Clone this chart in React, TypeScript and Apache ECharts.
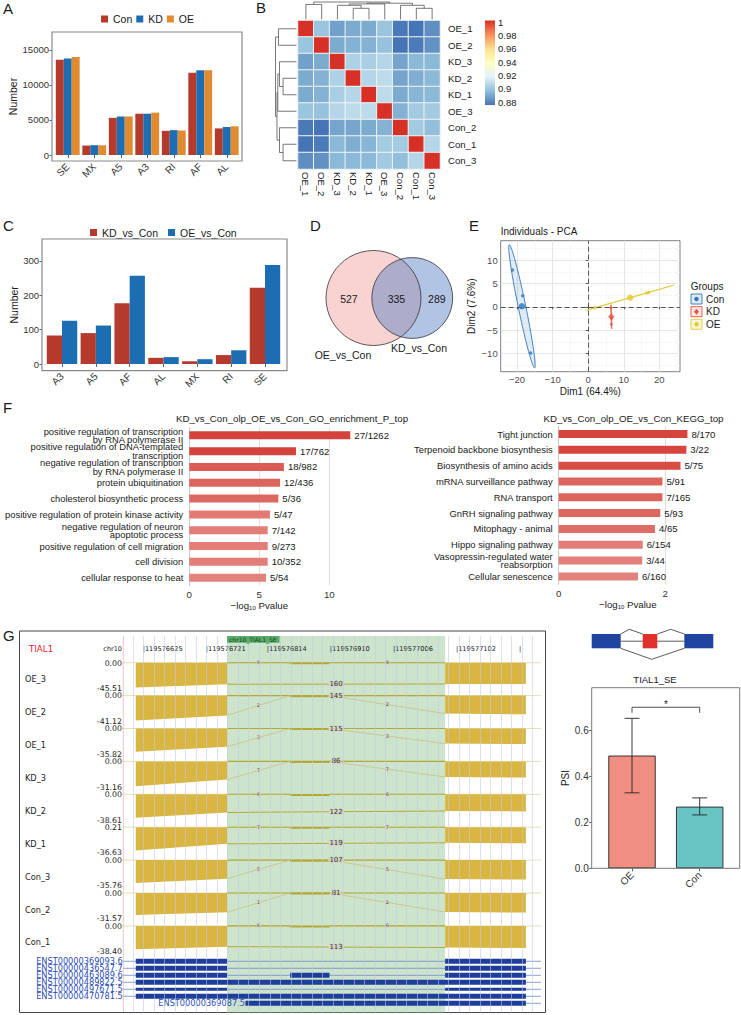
import React, { useEffect, useRef } from "react";
import * as echarts from "echarts";

const FONT = "'Liberation Sans', Arial, Helvetica, sans-serif";
const GFONT = "'DejaVu Sans', Verdana, sans-serif";
const INK = "#1a1a1a";

// ---------- Panel A ----------
const asTypes = ["SE", "MX", "A5", "A3", "RI", "AF", "AL"];
const asCon = [13600, 1350, 5300, 5900, 3450, 11750, 3800];
const asKD = [13800, 1400, 5500, 5900, 3550, 12100, 4000];
const asOE = [14000, 1380, 5500, 6050, 3500, 12100, 4100];
const aTicks = [0, 5000, 10000, 15000];

// ---------- Panel B ----------
const samples = ["OE_1", "OE_2", "KD_3", "KD_2", "KD_1", "OE_3", "Con_2", "Con_1", "Con_3"];
const corrMatrix = [
  [1, 0.899, 0.888, 0.891, 0.891, 0.899, 0.877, 0.876, 0.883],
  [0.899, 1, 0.891, 0.893, 0.893, 0.898, 0.876, 0.878, 0.884],
  [0.888, 0.891, 1, 0.904, 0.903, 0.906, 0.889, 0.895, 0.895],
  [0.891, 0.893, 0.904, 1, 0.906, 0.908, 0.889, 0.892, 0.895],
  [0.891, 0.893, 0.903, 0.906, 1, 0.908, 0.891, 0.894, 0.895],
  [0.899, 0.898, 0.906, 0.908, 0.908, 1, 0.893, 0.901, 0.901],
  [0.877, 0.876, 0.889, 0.889, 0.891, 0.893, 1, 0.901, 0.897],
  [0.876, 0.878, 0.895, 0.892, 0.894, 0.901, 0.901, 1, 0.906],
  [0.883, 0.884, 0.895, 0.895, 0.895, 0.901, 0.897, 0.906, 1],
];
const corrTicks = [1, 0.98, 0.96, 0.94, 0.92, 0.9, 0.88];
const corrMin = 0.876;
const corrMax = 1;
// hclust-style merges: negative = leaf (1-based), positive = earlier merge (1-based), height (relative)
const dendroMerges = [
  [-4, -5, 0.64],
  [-8, -9, 0.64],
  [-3, 1, 0.81],
  [-7, 2, 0.81],
  [-1, -2, 0.86],
  [3, -6, 0.89],
  [6, 4, 0.93],
  [5, 7, 1.0],
];

// ---------- Panel C ----------
const diffTypes = ["A3", "A5", "AF", "AL", "MX", "RI", "SE"];
const diffKD = [83, 90, 177, 18, 8, 26, 222];
const diffOE = [126, 112, 257, 20, 14, 40, 288];
const cTicks = [0, 100, 200, 300];

// ---------- Panel D ----------
const vennSets = ["OE_vs_Con", "KD_vs_Con"];
const vennOnlyOE = 527;
const vennBoth = 335;
const vennOnlyKD = 289;

// ---------- Panel E ----------
const pcaGroups = ["Con", "KD", "OE"];
const pcaPoints = [
  [[-21.3, 7.9], [-18.4, 2.4], [-16.2, -9.9]],
  [[6.4, -0.2], [6.6, -2.5], [6.5, -3.7]],
  [[1.9, -0.2], [16.4, 3.0], [17.0, 3.1]],
];
const pcaXTicks = [-20, -10, 0, 10, 20];
const pcaYTicks = [-10, -5, 0, 5, 10];
const pcaXMinor = [-15, -5, 5, 15, 25];
const pcaYMinor = [-12.5, -7.5, -2.5, 2.5, 7.5, 12.5];

// ---------- Panel F ----------
const goTerms = [
  "positive regulation of transcription\nby RNA polymerase II",
  "positive regulation of DNA-templated\ntranscription",
  "negative regulation of transcription\nby RNA polymerase II",
  "protein ubiquitination",
  "cholesterol biosynthetic process",
  "positive regulation of protein kinase activity",
  "negative regulation of neuron\napoptotic process",
  "positive regulation of cell migration",
  "cell division",
  "cellular response to heat",
];
const goLogP = [11.5, 7.62, 6.76, 6.48, 6.36, 5.76, 5.6, 5.6, 5.6, 5.48];
const goRatio = ["27/1262", "17/762", "18/982", "12/436", "5/36", "5/47", "7/142", "9/273", "10/352", "5/54"];
const goTicks = [0, 5, 10];
const keggTerms = [
  "Tight junction",
  "Terpenoid backbone biosynthesis",
  "Biosynthesis of amino acids",
  "mRNA surveillance pathway",
  "RNA transport",
  "GnRH signaling pathway",
  "Mitophagy - animal",
  "Hippo signaling pathway",
  "Vasopressin-regulated water\nreabsorption",
  "Cellular senescence",
];
const keggLogP = [2.42, 2.4, 2.29, 1.95, 1.95, 1.91, 1.81, 1.58, 1.57, 1.49];
const keggRatio = ["8/170", "3/22", "5/75", "5/91", "7/165", "5/93", "4/65", "6/154", "3/44", "6/160"];
const keggTicks = [0, 2];

// ---------- Panel G ----------
const gGene = "TIAL1";
const gChrom = "chr10";
const gEvent = "chr10_TIAL1_SE";
const gViewStart = 119576594;
const gViewEnd = 119577230;
const gTickPos = [119576625, 119576721, 119576814, 119576910, 119577006, 119577102, 119577198];
const gTickLabels = ["119576625", "119576721", "119576814", "119576910", "119577006", "119577102", ""];
const exonLeft = [119576613, 119576752];
const exonMid = [119576848, 119576908];
const exonRight = [119577084, 119577207];
const trackNames = ["OE_3", "OE_2", "OE_1", "KD_3", "KD_2", "KD_1", "Con_3", "Con_2", "Con_1"];
const trackTopLabel = ["0.00", "0.00", "0.00", "0.00", "0.00", "0.21", "0.00", "0.00", "0.00"];
const trackMax = [45.51, 41.12, 35.82, 31.16, 38.61, 36.63, 35.76, 31.57, 38.4];
// coverage readings: left exon start, left exon end, right exon start, right exon end
const trackCov = [
  [43.2, 37.8, 37.3, 37.3],
  [39.5, 31.3, 28.4, 29.6],
  [32.2, 25.1, 20.8, 21.5],
  [29.9, 21.8, 18.7, 19.3],
  [34.7, 27.0, 24.7, 25.5],
  [33.0, 23.4, 22.0, 22.7],
  [31.5, 25.7, 26.1, 26.8],
  [26.8, 23.4, 23.0, 23.7],
  [34.6, 30.7, 31.9, 32.6],
];
const skipReads = [160, 145, 115, 86, 122, 119, 107, 81, 113];
const incLeftReads = [9, 2, 3, 7, 6, 7, 5, 1, 6];
const incRightReads = [9, 2, 3, 7, 6, 7, 5, 2, 6];
const skipOnTop = [false, true, true, true, false, false, true, true, false];
const txNames = [
  "ENST00000369093.6",
  "ENST00000436547.7",
  "ENST00000463089.6",
  "ENST00000489822.5",
  "ENST00000497671.5",
  "ENST00000470781.5",
  "ENST00000369087.5",
];
const txSpan = [
  [119576560, 119577300],
  [119576560, 119577300],
  [119576560, 119577300],
  [119576560, 119577300],
  [119576560, 119577300],
  [119576560, 119577300],
  [119576780, 119577300],
];
const txExons = [
  [[119576613, 119576752], [119577084, 119577207]],
  [[119576613, 119576752], [119577084, 119577207]],
  [[119576613, 119576752], [119576848, 119576908], [119577084, 119577207]],
  [[119576613, 119577207]],
  [[119576613, 119576752], [119577084, 119577207]],
  [[119576613, 119577207]],
  [[119576780, 119577207]],
];

// ---------- PSI ----------
const psiGroups = ["OE", "Con"];
const psiMean = [0.49, 0.268];
const psiLow = [0.328, 0.232];
const psiHigh = [0.652, 0.306];
const psiTicks = [0, 0.2, 0.4, 0.6];
const psiSig = "*";

// ---------- helpers ----------
function hexRgb(h: string) {
  const n = parseInt(h.slice(1), 16);
  return [(n >> 16) & 255, (n >> 8) & 255, n & 255];
}
function mix(a: string, b: string, t: number) {
  const A = hexRgb(a), B = hexRgb(b);
  const c = A.map((v, i) => Math.round(v + (B[i] - v) * Math.max(0, Math.min(1, t))));
  return `rgb(${c[0]},${c[1]},${c[2]})`;
}
function mean(pts: number[][]) {
  const n = pts.length;
  return [pts.reduce((s, p) => s + p[0], 0) / n, pts.reduce((s, p) => s + p[1], 0) / n];
}
function ellipsePoints(pts: number[][], k: number, n = 90) {
  const [mx, my] = mean(pts);
  let sxx = 0, syy = 0, sxy = 0;
  pts.forEach((p) => {
    sxx += (p[0] - mx) ** 2;
    syy += (p[1] - my) ** 2;
    sxy += (p[0] - mx) * (p[1] - my);
  });
  const m = pts.length - 1;
  sxx /= m; syy /= m; sxy /= m;
  const tr = (sxx + syy) / 2;
  const df = Math.sqrt(((sxx - syy) / 2) ** 2 + sxy * sxy);
  const l1 = tr + df, l2 = Math.max(tr - df, 1e-6);
  const th = 0.5 * Math.atan2(2 * sxy, sxx - syy);
  const out: number[][] = [];
  for (let i = 0; i < n; i++) {
    const t = (2 * Math.PI * i) / n;
    const u = k * Math.sqrt(l1) * Math.cos(t);
    const v = k * Math.sqrt(l2) * Math.sin(t);
    out.push([mx + u * Math.cos(th) - v * Math.sin(th), my + u * Math.sin(th) + v * Math.cos(th)]);
  }
  return out;
}
function lensArea(r1: number, r2: number, d: number) {
  const a = Math.acos(Math.max(-1, Math.min(1, (d * d + r1 * r1 - r2 * r2) / (2 * d * r1))));
  const b = Math.acos(Math.max(-1, Math.min(1, (d * d + r2 * r2 - r1 * r1) / (2 * d * r2))));
  const s = Math.sqrt(Math.max(0, (-d + r1 + r2) * (d + r1 - r2) * (d - r1 + r2) * (d + r1 + r2)));
  return r1 * r1 * a + r2 * r2 * b - 0.5 * s;
}
function dendroLines(merges: number[][]) {
  const info: { pos: number; h: number }[] = [];
  const node = (id: number) => (id < 0 ? { pos: -id - 1, h: 0 } : info[id - 1]);
  const lines: number[][][] = [];
  merges.forEach(([a, b, h]) => {
    const A = node(a), B = node(b);
    lines.push([[A.pos, A.h], [A.pos, h], [B.pos, h], [B.pos, B.h]]);
    info.push({ pos: (A.pos + B.pos) / 2, h });
  });
  return lines;
}
const T = (x: number, y: number, text: string, o: any = {}) => ({
  type: "text",
  x,
  y,
  rotation: o.rotation || 0,
  silent: true,
  z: o.z || 10,
  style: {
    text,
    fontFamily: o.font || FONT,
    fontSize: o.size || 10,
    fill: o.fill || INK,
    align: o.align || "left",
    verticalAlign: o.va || "middle",
  },
});

function buildOption() {
  const graphic: any[] = [];
  const series: any[] = [];

  // panel letters
  [["A", 3, 8], ["B", 256, 7.5], ["C", 3, 225], ["D", 310, 225.5], ["E", 469, 225.5], ["F", 3, 407], ["G", 3, 635.5]].forEach(
    ([l, x, y]: any) => graphic.push(T(x, y, l, { size: 15 }))
  );

  // ---- A ----
  graphic.push({ type: "rect", shape: { x: 52, y: 32, width: 190, height: 129 }, style: { fill: "none", stroke: "#8a8a8a", lineWidth: 1.2 }, silent: true, z: 5 });
  const aColors = ["#B43A2C", "#1D6DB2", "#E08B30"];
  [["Con", asCon], ["KD", asKD], ["OE", asOE]].forEach(([name, data]: any, i) =>
    series.push({ type: "bar", name, xAxisIndex: 0, yAxisIndex: 0, data, barGap: "0%", barCategoryGap: "10%", itemStyle: { color: aColors[i] } })
  );

  // ---- B heatmap ----
  const heatData: any[] = [];
  corrMatrix.forEach((row, yi) => row.forEach((v, xi) => heatData.push([xi, yi, v])));
  const heatIndex = series.length;
  series.push({ type: "heatmap", xAxisIndex: 1, yAxisIndex: 1, data: heatData, itemStyle: { borderColor: "#f2f2f2", borderWidth: 1 }, emphasis: { disabled: true } });
  const cellW = 142 / samples.length, cellH = 148.5 / samples.length;
  dendroLines(dendroMerges).forEach((ln) => {
    graphic.push({ type: "polyline", silent: true, shape: { points: ln.map(([p, h]) => [298 + (p + 0.5) * cellW, 19.5 - h * 17.5]) }, style: { stroke: "#555", lineWidth: 0.8, fill: "none" } });
    graphic.push({ type: "polyline", silent: true, shape: { points: ln.map(([p, h]) => [296.5 - h * 21, 20.5 + (p + 0.5) * cellH]) }, style: { stroke: "#555", lineWidth: 0.8, fill: "none" } });
  });
  const corrPalette = ["#4575B4", "#91BFDB", "#E0F3F8", "#FFFFBF", "#FEE090", "#FC8D59", "#D73027"];
  graphic.push({
    type: "rect", silent: true, shape: { x: 485, y: 20.5, width: 10, height: 84.5 },
    style: { fill: new echarts.graphic.LinearGradient(0, 1, 0, 0, corrPalette.map((c, i) => ({ offset: i / (corrPalette.length - 1), color: c }))) },
  });
  corrTicks.forEach((v) => graphic.push(T(498, 22 + ((1 - v) / 0.12) * 80, String(v), { size: 9.5 })));

  // ---- C ----
  graphic.push({ type: "rect", shape: { x: 42, y: 239, width: 245, height: 131.7 }, style: { fill: "none", stroke: "#8a8a8a", lineWidth: 1.2 }, silent: true, z: 5 });
  series.push({ type: "bar", name: "KD_vs_Con", xAxisIndex: 2, yAxisIndex: 2, data: diffKD, barGap: "0%", barCategoryGap: "10%", itemStyle: { color: "#B43A2C" } });
  series.push({ type: "bar", name: "OE_vs_Con", xAxisIndex: 2, yAxisIndex: 2, data: diffOE, barGap: "0%", barCategoryGap: "10%", itemStyle: { color: "#1D6DB2" } });

  // ---- D Venn ----
  const vScale = 1.618;
  const rOE = vScale * Math.sqrt(vennOnlyOE + vennBoth);
  const rKD = vScale * Math.sqrt(vennOnlyKD + vennBoth);
  const target = (Math.PI * rOE * rOE * vennBoth) / (vennOnlyOE + vennBoth);
  let lo = Math.abs(rOE - rKD) + 1e-6, hi = rOE + rKD;
  for (let i = 0; i < 60; i++) {
    const mid = (lo + hi) / 2;
    if (lensArea(rOE, rKD, mid) > target) lo = mid; else hi = mid;
  }
  const dd = (lo + hi) / 2;
  const c1x = 373.5, cy = 298, c2x = c1x + dd;
  graphic.push({ type: "circle", silent: true, shape: { cx: c1x, cy, r: rOE }, style: { fill: "#F8D3D1" } });
  graphic.push({ type: "circle", silent: true, shape: { cx: c2x, cy, r: rKD }, style: { fill: "rgba(82,124,193,0.45)" } });
  graphic.push({ type: "circle", silent: true, shape: { cx: c1x, cy, r: rOE }, style: { fill: "none", stroke: "#333", lineWidth: 0.8 } });
  graphic.push({ type: "circle", silent: true, shape: { cx: c2x, cy, r: rKD }, style: { fill: "none", stroke: "#333", lineWidth: 0.8 } });
  graphic.push(T((c1x - rOE + c2x - rKD) / 2, cy + 1, String(vennOnlyOE), { size: 10.5, align: "center" }));
  graphic.push(T((c2x - rKD + c1x + rOE) / 2, cy + 1, String(vennBoth), { size: 10.5, align: "center" }));
  graphic.push(T((c1x + rOE + c2x + rKD) / 2, cy + 1, String(vennOnlyKD), { size: 10.5, align: "center" }));
  graphic.push(T(343, 355, vennSets[0], { size: 10.5, align: "center" }));
  graphic.push(T(419, 348, vennSets[1], { size: 10.5, align: "center" }));

  // ---- E PCA ----
  const pcaColors = ["#2E78BE", "#E4553F", "#E3CB35"];
  const pcaFills = ["rgba(46,120,190,0.15)", "rgba(228,85,63,0.15)", "rgba(227,203,53,0.2)"];
  const pcaSymbols = ["circle", "diamond", "circle"];
  graphic.push(T(500.7, 231.7, "Individuals - PCA", { size: 10 }));
  series.push({
    type: "custom", name: "pca-ellipse", xAxisIndex: 3, yAxisIndex: 3, clip: true, silent: true, z: 2,
    data: pcaPoints.map((p) => mean(p)),
    renderItem: (params: any, api: any) => {
      const gi = params.dataIndex;
      const pts = ellipsePoints(pcaPoints[gi], 1.45).map((p) => api.coord(p));
      return { type: "polygon", shape: { points: pts }, style: { fill: pcaFills[gi], stroke: pcaColors[gi], lineWidth: 0.9 } };
    },
  });
  pcaGroups.forEach((g, i) => {
    series.push({
      type: "scatter", name: "pca-" + g, xAxisIndex: 3, yAxisIndex: 3, data: pcaPoints[i], symbol: pcaSymbols[i], symbolSize: 3.5,
      itemStyle: { color: pcaColors[i] }, z: 4,
      markLine: i === 0 ? {
        silent: true, symbol: "none", label: { show: false },
        lineStyle: { type: [5, 3], color: "#555", width: 1 },
        data: [{ xAxis: 0 }, { yAxis: 0 }],
      } : undefined,
    });
    series.push({ type: "scatter", name: "pca-mean-" + g, xAxisIndex: 3, yAxisIndex: 3, data: [mean(pcaPoints[i])], symbol: pcaSymbols[i], symbolSize: 6.5, itemStyle: { color: pcaColors[i] }, z: 5 });
  });
  graphic.push(T(690.7, 286, "Groups", { size: 10 }));
  pcaGroups.forEach((g, i) => {
    const y = 294 + i * 12.65;
    graphic.push({ type: "rect", silent: true, shape: { x: 691, y, width: 11, height: 10 }, style: { fill: pcaFills[i], stroke: pcaColors[i], lineWidth: 0.9 } });
    if (pcaSymbols[i] === "diamond") {
      graphic.push({ type: "polygon", silent: true, shape: { points: [[696.5, y + 2], [699, y + 5], [696.5, y + 8], [694, y + 5]] }, style: { fill: pcaColors[i] } });
    } else {
      graphic.push({ type: "circle", silent: true, shape: { cx: 696.5, cy: y + 5, r: 2.2 }, style: { fill: pcaColors[i] } });
    }
    graphic.push(T(706, y + 5, g, { size: 10 }));
  });

  // ---- F ----
  graphic.push(T(292, 418, "KD_vs_Con_olp_OE_vs_Con_GO_enrichment_P_top", { size: 9.7, align: "center" }));
  graphic.push(T(633.5, 418, "KD_vs_Con_olp_OE_vs_Con_KEGG_top", { size: 9.7, align: "center" }));
  series.push({
    type: "bar", name: "GO", xAxisIndex: 4, yAxisIndex: 4, data: goLogP, barWidth: 8, clip: false,
    itemStyle: { color: (p: any) => mix("#E4837E", "#D5443C", (p.value - 5.4) / (7.6 - 5.4)) },
    label: { show: true, position: "right", distance: 4, formatter: (p: any) => goRatio[p.dataIndex], fontSize: 9.6, color: INK, fontFamily: FONT },
  });
  series.push({
    type: "bar", name: "KEGG", xAxisIndex: 5, yAxisIndex: 5, data: keggLogP, barWidth: 8, clip: false,
    itemStyle: { color: (p: any) => mix("#E4837E", "#D5443C", (p.value - 1.49) / (2.42 - 1.49)) },
    label: { show: true, position: "right", distance: 4, formatter: (p: any) => keggRatio[p.dataIndex], fontSize: 9.6, color: INK, fontFamily: FONT },
  });

  // ---- G ----
  graphic.push({ type: "rect", silent: true, z: 1, shape: { x: 19.5, y: 631, width: 526, height: 381.5 }, style: { fill: "none", stroke: "#444", lineWidth: 1 } });
  graphic.push({ type: "line", silent: true, z: 1, shape: { x1: 123.3, y1: 636, x2: 123.3, y2: 1012 }, style: { stroke: "#F2C6C6", lineWidth: 1 } });
  graphic.push(T(29, 649, gGene, { size: 8.7, font: GFONT, fill: "#E8202A" }));
  graphic.push(T(122, 649, gChrom, { size: 6.5, font: GFONT, align: "right", fill: "#222" }));

  const G_TRACK0 = 26.7, G_STEP = 32.9, G_DEPTH = 26, G_TX0 = 325.3, G_TXSTEP = 7;
  const GOLD = "#D9B642";
  const OLIVE = "#B3A835";
  const OLIVE_L = "#C8C27C";
  const lblBig = (x: number, y: number, s: string) => ({
    type: "text", x, y, z2: 5,
    style: { text: s, fontFamily: GFONT, fontSize: 7, fill: "#333", align: "center", verticalAlign: "middle", backgroundColor: "rgba(214,214,200,0.8)", padding: [0, 1] },
  });
  const lblSmall = (x: number, y: number, s: string) => ({
    type: "text", x, y, z2: 5,
    style: { text: s, fontFamily: GFONT, fontSize: 4.8, fill: "#444", align: "center", verticalAlign: "middle", backgroundColor: "rgba(214,214,200,0.8)", padding: [0, 0.5] },
  });

  // highlight
  series.push({
    type: "custom", name: "g-highlight", xAxisIndex: 6, yAxisIndex: 6, silent: true, z: 1,
    data: [[exonLeft[1], exonRight[0]]],
    renderItem: (params: any, api: any) => {
      const x0 = api.coord([api.value(0), 0])[0];
      const x1 = api.coord([api.value(1), 0])[0];
      const cs = params.coordSys;
      return { type: "rect", shape: { x: x0, y: cs.y, width: x1 - x0, height: cs.height }, style: { fill: "rgba(140,195,140,0.45)" } };
    },
  });
  series.push({
    type: "custom", name: "g-highlight-label", xAxisIndex: 6, yAxisIndex: 6, silent: true, z: 6,
    data: [[exonLeft[1], 0]],
    renderItem: (params: any, api: any) => {
      const x0 = api.coord([api.value(0), 0])[0];
      const cs = params.coordSys;
      return {
        type: "group",
        children: [
          { type: "rect", shape: { x: x0, y: cs.y, width: 52.5, height: 6.8 }, style: { fill: "#5BAA66" } },
          { type: "text", x: x0 + 2, y: cs.y + 3.5, style: { text: gEvent, fontFamily: GFONT, fontSize: 6, fill: "#143", align: "left", verticalAlign: "middle" } },
        ],
      };
    },
  });
  // tracks
  series.push({
    type: "custom", name: "g-tracks", xAxisIndex: 6, yAxisIndex: 6, silent: true, z: 3,
    data: trackNames.map(() => [gViewStart, 0]),
    renderItem: (params: any, api: any) => {
      const i = params.dataIndex;
      const cs = params.coordSys;
      const X = (bp: number) => api.coord([bp, 0])[0];
      const Y = (u: number) => api.coord([gViewStart, u])[1];
      const topU = G_TRACK0 + i * G_STEP;
      const yt = Y(topU);
      const dep = (c: number) => Y(topU + (G_DEPTH * c) / trackMax[i]);
      const cov = trackCov[i];
      const L0 = X(exonLeft[0]), L1 = X(exonLeft[1]), M0 = X(exonMid[0]), M1 = X(exonMid[1]), R0 = X(exonRight[0]), R1 = X(exonRight[1]);
      const ch: any[] = [];
      ch.push({ type: "text", x: cs.x - 98.3, y: yt + 16.5, style: { text: trackNames[i], fontFamily: GFONT, fontSize: 8.2, fill: "#222", align: "left", verticalAlign: "middle" } });
      ch.push({ type: "text", x: cs.x - 1.3, y: yt + 0.3, style: { text: trackTopLabel[i], fontFamily: GFONT, fontSize: 7.8, fill: "#222", align: "right", verticalAlign: "middle" } });
      ch.push({ type: "text", x: cs.x - 1.3, y: Y(topU + G_DEPTH) - 0.3, style: { text: "-" + trackMax[i].toFixed(2), fontFamily: GFONT, fontSize: 7.8, fill: "#222", align: "right", verticalAlign: "middle" } });
      ch.push({ type: "line", shape: { x1: cs.x - 1, y1: yt, x2: cs.x + cs.width, y2: yt }, style: { stroke: "rgba(210,200,120,0.7)", lineWidth: 0.8 } });
      ch.push({ type: "polygon", shape: { points: [[L0, yt], [L1, yt], [L1, dep(cov[1])], [L0, dep(cov[0])]] }, style: { fill: GOLD } });
      ch.push({ type: "polygon", shape: { points: [[R0, yt], [R1, yt], [R1, dep(cov[3])], [R0, dep(cov[2])]] }, style: { fill: GOLD } });
      const yl = dep(cov[1]), yr = dep(cov[2]);
      if (skipOnTop[i]) {
        ch.push({ type: "line", shape: { x1: L1, y1: yt, x2: R0, y2: yt }, style: { stroke: OLIVE, lineWidth: 1.2 } });
        ch.push({ type: "line", shape: { x1: L1, y1: yl, x2: M0, y2: yt }, style: { stroke: OLIVE_L, lineWidth: 0.8 } });
        ch.push({ type: "line", shape: { x1: M1, y1: yt, x2: R0, y2: yr }, style: { stroke: OLIVE_L, lineWidth: 0.8 } });
        ch.push({ type: "line", shape: { x1: M0, y1: yt + 0.6, x2: M1, y2: yt + 0.6 }, style: { stroke: OLIVE, lineWidth: 2 } });
        ch.push(lblBig((L1 + R0) / 2, yt, String(skipReads[i])));
        ch.push(lblSmall((L1 + M0) / 2, (yl + yt) / 2, String(incLeftReads[i])));
        ch.push(lblSmall((M1 + R0) / 2, (yt + yr) / 2, String(incRightReads[i])));
      } else {
        ch.push({ type: "line", shape: { x1: L1, y1: yt, x2: M0, y2: yt }, style: { stroke: OLIVE, lineWidth: 1.1 } });
        ch.push({ type: "line", shape: { x1: M1, y1: yt, x2: R0, y2: yt }, style: { stroke: OLIVE, lineWidth: 1.1 } });
        ch.push({ type: "line", shape: { x1: M0, y1: yt + 0.6, x2: M1, y2: yt + 0.6 }, style: { stroke: OLIVE, lineWidth: 2 } });
        ch.push({ type: "line", shape: { x1: L1, y1: yl, x2: R0, y2: yr }, style: { stroke: OLIVE, lineWidth: 1.1 } });
        ch.push(lblSmall((L1 + M0) / 2, yt, String(incLeftReads[i])));
        ch.push(lblSmall((M1 + R0) / 2, yt, String(incRightReads[i])));
        ch.push(lblBig((L1 + R0) / 2, (yl + yr) / 2, String(skipReads[i])));
      }
      return { type: "group", children: ch };
    },
  });
  // ticks
  series.push({
    type: "custom", name: "g-ticks", xAxisIndex: 6, yAxisIndex: 6, silent: true, z: 3,
    data: gTickPos.map((p) => [p, 13]),
    renderItem: (params: any, api: any) => {
      const p = api.coord([api.value(0), api.value(1)]);
      return { type: "text", x: p[0] - 1, y: p[1], style: { text: "|" + gTickLabels[params.dataIndex], fontFamily: GFONT, fontSize: 6.6, fill: "#222", align: "left", verticalAlign: "middle" } };
    },
  });
  // transcripts
  series.push({
    type: "custom", name: "g-transcripts", xAxisIndex: 6, yAxisIndex: 6, silent: true, z: 3,
    data: txNames.map(() => [gViewStart, 0]),
    renderItem: (params: any, api: any) => {
      const k = params.dataIndex;
      const X = (bp: number) => api.coord([Math.max(gViewStart, Math.min(gViewEnd, bp)), 0])[0];
      const y = api.coord([gViewStart, G_TX0 + k * G_TXSTEP])[1];
      const h = k === 4 ? 3 : 5;
      const s0 = X(txSpan[k][0]), s1 = X(txSpan[k][1]);
      const ch: any[] = [{ type: "line", shape: { x1: s0, y1: y, x2: s1, y2: y }, style: { stroke: "#6F86CC", lineWidth: 0.8 } }];
      txExons[k].forEach((e) => ch.push({ type: "rect", shape: { x: X(e[0]), y: y - h / 2, width: X(e[1]) - X(e[0]), height: h }, style: { fill: "#1D3E9A" } }));
      ch.push({ type: "text", x: s0 - 0.5, y, style: { text: txNames[k], fontFamily: GFONT, fontSize: 8.2, fill: "#2B4DB5", align: "right", verticalAlign: "middle" } });
      return { type: "group", children: ch };
    },
  });

  // ---- splicing diagram + PSI ----
  graphic.push({ type: "line", silent: true, shape: { x1: 620.7, y1: 641.2, x2: 684.3, y2: 641.2 }, style: { stroke: "#333", lineWidth: 0.8 } });
  graphic.push({ type: "polyline", silent: true, shape: { points: [[620.7, 634], [629.3, 629.3], [642.7, 634]] }, style: { stroke: "#333", lineWidth: 0.8, fill: "none" } });
  graphic.push({ type: "polyline", silent: true, shape: { points: [[657.3, 634], [670.7, 629.3], [684.3, 634]] }, style: { stroke: "#333", lineWidth: 0.8, fill: "none" } });
  graphic.push({ type: "polyline", silent: true, shape: { points: [[620.7, 648.3], [651.7, 659.3], [684.3, 648.3]] }, style: { stroke: "#333", lineWidth: 0.8, fill: "none" } });
  graphic.push({ type: "rect", silent: true, shape: { x: 591.7, y: 634, width: 29, height: 14.3 }, style: { fill: "#1F45A0" } });
  graphic.push({ type: "rect", silent: true, shape: { x: 642.7, y: 634, width: 14.6, height: 14.3 }, style: { fill: "#E0302A" } });
  graphic.push({ type: "rect", silent: true, shape: { x: 684.3, y: 634, width: 29, height: 14.3 }, style: { fill: "#1F45A0" } });
  graphic.push(T(655, 679.3, "TIAL1_SE", { size: 9.5, align: "center" }));
  graphic.push({ type: "rect", shape: { x: 591.7, y: 687.7, width: 148, height: 180.6 }, style: { fill: "none", stroke: "#7a7a7a", lineWidth: 1 }, silent: true, z: 5 });
  const psiColors = ["#F08E82", "#69C5C4"];
  series.push({
    type: "bar", name: "PSI", xAxisIndex: 7, yAxisIndex: 7, data: psiMean, barWidth: "70%",
    itemStyle: { color: (p: any) => psiColors[p.dataIndex], borderColor: "#222", borderWidth: 0.9 },
  });
  series.push({
    type: "custom", name: "psi-err", xAxisIndex: 7, yAxisIndex: 7, silent: true, z: 5,
    data: psiGroups.map((g, i) => [i, psiLow[i], psiHigh[i]]),
    renderItem: (params: any, api: any) => {
      const a = api.coord([api.value(0), api.value(1)]);
      const b = api.coord([api.value(0), api.value(2)]);
      const w = 7.5;
      const st = { stroke: "#222", lineWidth: 0.9 };
      return {
        type: "group",
        children: [
          { type: "line", shape: { x1: a[0], y1: a[1], x2: b[0], y2: b[1] }, style: st },
          { type: "line", shape: { x1: a[0] - w, y1: a[1], x2: a[0] + w, y2: a[1] }, style: st },
          { type: "line", shape: { x1: b[0] - w, y1: b[1], x2: b[0] + w, y2: b[1] }, style: st },
        ],
      };
    },
  });
  series.push({
    type: "custom", name: "psi-sig", xAxisIndex: 7, yAxisIndex: 7, silent: true, z: 5,
    data: [[0, 1, 0.7, 0.676]],
    renderItem: (params: any, api: any) => {
      const p0 = api.coord([api.value(0), api.value(2)]);
      const p1 = api.coord([api.value(1), api.value(2)]);
      const yd = api.coord([api.value(0), api.value(3)])[1];
      return {
        type: "group",
        children: [
          { type: "polyline", shape: { points: [[p0[0], yd], [p0[0], p0[1]], [p1[0], p1[1]], [p1[0], yd]] }, style: { stroke: "#222", lineWidth: 0.8, fill: "none" } },
          { type: "text", x: (p0[0] + p1[0]) / 2, y: p0[1] - 3, style: { text: psiSig, fontFamily: FONT, fontSize: 10, fill: "#222", align: "center", verticalAlign: "middle" } },
        ],
      };
    },
  });

  const gridBase = { outerBoundsMode: "none", containLabel: false };
  const tickStyle = { lineStyle: { color: "#333", width: 0.8 } };
  const minus = (v: number) => String(v).replace("-", "\u2212");
  const gGrid: number[] = [];
  for (let v = 119576625 - 32; v <= gViewEnd; v += 16) if (v > gViewStart) gGrid.push(v);

  const option: any = {
    animation: false,
    backgroundColor: "#ffffff",
    textStyle: { fontFamily: FONT },
    grid: [
      { ...gridBase, left: 54.5, top: 32, width: 185.5, height: 129 },
      { ...gridBase, left: 298, top: 20.5, width: 142, height: 148.5 },
      { ...gridBase, left: 45.1, top: 239, width: 236.8, height: 131.7 },
      { ...gridBase, left: 500.7, top: 240.7, width: 179.3, height: 131, show: true, borderColor: "#7f7f7f", borderWidth: 1, backgroundColor: "transparent" },
      { ...gridBase, left: 189.3, top: 427.4, width: 140, height: 158.2 },
      { ...gridBase, left: 558.7, top: 426.1, width: 138.3, height: 158.2 },
      { ...gridBase, left: 123.3, top: 636, width: 417.7, height: 376.7 },
      { ...gridBase, left: 598.15, top: 687.7, width: 135.4, height: 180.6 },
    ],
    xAxis: [
      { gridIndex: 0, type: "category", data: asTypes, axisLine: { show: false }, axisTick: { show: true, alignWithLabel: true, length: 3, ...tickStyle }, axisLabel: { interval: 0, rotate: 45, fontSize: 10, color: "#333", margin: 4 }, splitLine: { show: false } },
      { gridIndex: 1, type: "category", data: samples, axisLine: { show: false }, axisTick: { show: false }, axisLabel: { interval: 0, rotate: -90, fontSize: 9.5, color: INK, margin: 3 }, splitLine: { show: false } },
      { gridIndex: 2, type: "category", data: diffTypes, axisLine: { show: false }, axisTick: { show: true, alignWithLabel: true, length: 3, ...tickStyle }, axisLabel: { interval: 0, rotate: 45, fontSize: 10, color: "#333", margin: 4 }, splitLine: { show: false } },
      {
        gridIndex: 3, type: "value", min: -24.6, max: 25.8, axisLine: { show: false },
        axisTick: { show: true, length: 2.5, customValues: pcaXTicks, ...tickStyle },
        axisLabel: { customValues: pcaXTicks, formatter: minus, fontSize: 9.5, color: "#4D4D4D", margin: 3 },
        splitLine: { show: true, lineStyle: { color: "#E3E3E3", width: 0.9 } },
        name: "Dim1 (64.4%)", nameLocation: "middle", nameGap: 15, nameTextStyle: { fontSize: 10, color: INK },
      },
      {
        gridIndex: 4, type: "value", min: 0, max: 10, axisLine: { show: false }, axisTick: { show: false, customValues: goTicks },
        axisLabel: { customValues: goTicks, fontSize: 9.7, color: "#333", margin: 4 },
        splitLine: { show: true, lineStyle: { color: "#DDDDDD", width: 1 } },
        name: "\u2212log{sub|10} Pvalue", nameLocation: "middle", nameGap: 14,
        nameTextStyle: { fontSize: 9.7, color: INK, rich: { sub: { fontSize: 6, padding: [5, 0, 0, 0], color: INK } } },
      },
      {
        gridIndex: 5, type: "value", min: 0, max: 2.6, axisLine: { show: false }, axisTick: { show: false, customValues: keggTicks },
        axisLabel: { customValues: keggTicks, fontSize: 9.7, color: "#333", margin: 4 },
        splitLine: { show: true, lineStyle: { color: "#DDDDDD", width: 1 } },
        name: "\u2212log{sub|10} Pvalue", nameLocation: "middle", nameGap: 14,
        nameTextStyle: { fontSize: 9.7, color: INK, rich: { sub: { fontSize: 6, padding: [5, 0, 0, 0], color: INK } } },
      },
      {
        gridIndex: 6, type: "value", min: gViewStart, max: gViewEnd, z: 4, axisLine: { show: false },
        axisTick: { show: false, customValues: gGrid }, axisLabel: { show: false },
        splitLine: { show: true, lineStyle: { color: "rgba(196,200,232,0.7)", width: 0.8 } },
      },
      { gridIndex: 7, type: "category", data: psiGroups, axisLine: { show: false }, axisTick: { show: true, alignWithLabel: true, length: 3, ...tickStyle }, axisLabel: { interval: 0, rotate: 45, fontSize: 10, color: "#333", margin: 5 }, splitLine: { show: false } },
      {
        gridIndex: 3, type: "value", min: -24.6, max: 25.8, position: "bottom", axisLine: { show: false },
        axisTick: { show: false, customValues: pcaXMinor }, axisLabel: { show: false },
        splitLine: { show: true, lineStyle: { color: "#F1F1F1", width: 0.6 } },
      },
    ],
    yAxis: [
      {
        gridIndex: 0, type: "value", min: -857, max: 17571, offset: 2.5, axisLine: { show: false },
        axisTick: { show: true, length: 2.5, customValues: aTicks, ...tickStyle }, axisLabel: { customValues: aTicks, formatter: (v: number) => String(v), fontSize: 9.5, color: "#333", margin: 3 },
        splitLine: { show: false }, name: "Number", nameLocation: "middle", nameGap: 33, nameTextStyle: { fontSize: 10.5, color: INK },
      },
      { gridIndex: 1, type: "category", data: samples, inverse: true, position: "right", axisLine: { show: false }, axisTick: { show: false }, axisLabel: { interval: 0, fontSize: 9.6, color: INK, margin: 8 }, splitLine: { show: false } },
      {
        gridIndex: 2, type: "value", min: -19.5, max: 364, offset: 3.1, axisLine: { show: false },
        axisTick: { show: true, length: 2.5, customValues: cTicks, ...tickStyle }, axisLabel: { customValues: cTicks, formatter: (v: number) => String(v), fontSize: 9.5, color: "#333", margin: 3 },
        splitLine: { show: false }, name: "Number", nameLocation: "middle", nameGap: 22, nameTextStyle: { fontSize: 10.5, color: INK },
      },
      {
        gridIndex: 3, type: "value", min: -13.9, max: 14.2, axisLine: { show: false },
        axisTick: { show: true, length: 2.5, customValues: pcaYTicks, ...tickStyle },
        axisLabel: { customValues: pcaYTicks, formatter: minus, fontSize: 9.5, color: "#4D4D4D", margin: 3 },
        splitLine: { show: true, lineStyle: { color: "#E3E3E3", width: 0.9 } },
        name: "Dim2 (7.6%)", nameLocation: "middle", nameGap: 24, nameTextStyle: { fontSize: 10, color: INK },
      },
      {
        gridIndex: 4, type: "category", data: goTerms, inverse: true, axisLine: { show: true, lineStyle: { color: "#C8C8C8", width: 1 } }, axisTick: { show: false },
        axisLabel: { interval: 0, fontSize: 9.4, color: INK, margin: 6, lineHeight: 8.4 }, splitLine: { show: false },
      },
      {
        gridIndex: 5, type: "category", data: keggTerms, inverse: true, axisLine: { show: true, lineStyle: { color: "#C8C8C8", width: 1 } }, axisTick: { show: false },
        axisLabel: { interval: 0, fontSize: 9.4, color: INK, margin: 6, lineHeight: 8.4 }, splitLine: { show: false },
      },
      { gridIndex: 6, type: "value", min: 0, max: 376.7, inverse: true, show: false },
      {
        gridIndex: 7, type: "value", min: 0, max: 0.785, offset: 6.45, axisLine: { show: false },
        axisTick: { show: true, length: 2.5, customValues: psiTicks, ...tickStyle },
        axisLabel: { customValues: psiTicks, formatter: (v: number) => v.toFixed(1), fontSize: 10, color: "#333", margin: 3 },
        splitLine: { show: false }, name: "PSI", nameLocation: "middle", nameGap: 19, nameTextStyle: { fontSize: 10, color: INK },
      },
      {
        gridIndex: 3, type: "value", min: -13.9, max: 14.2, position: "left", axisLine: { show: false },
        axisTick: { show: false, customValues: pcaYMinor }, axisLabel: { show: false },
        splitLine: { show: true, lineStyle: { color: "#F1F1F1", width: 0.6 } },
      },
    ],
    legend: [
      { top: 8.5, left: 96, itemWidth: 7, itemHeight: 7, itemGap: 4, icon: "rect", data: ["Con", "KD", "OE"], textStyle: { fontSize: 10.5, color: INK }, selectedMode: false },
      { top: 222, left: 85, itemWidth: 7, itemHeight: 7, itemGap: 10, icon: "rect", data: ["KD_vs_Con", "OE_vs_Con"], textStyle: { fontSize: 10.5, color: INK }, selectedMode: false },
    ],
    visualMap: [
      { type: "continuous", show: false, min: corrMin, max: corrMax, seriesIndex: heatIndex, dimension: 2, inRange: { color: corrPalette } },
    ],
    series,
    graphic,
  };
  return option;
}

export default function App() {
  const ref = useRef<HTMLDivElement>(null);
  useEffect(() => {
    const chart = echarts.init(ref.current as HTMLDivElement, null, { renderer: "svg" });
    chart.setOption(buildOption());
    return () => chart.dispose();
  }, []);
  return <div ref={ref} style={{ position: "absolute", left: 0, top: 0, width: 741, height: 1015, background: "#fff" }} />;
}
